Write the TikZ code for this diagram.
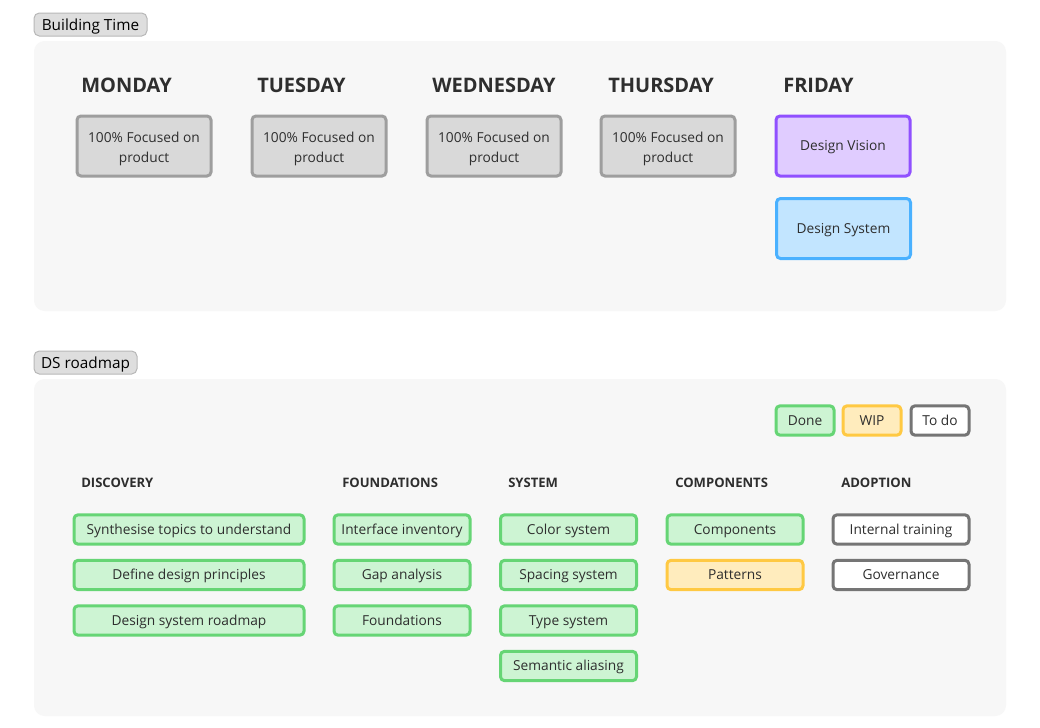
\documentclass[tikz,border=0pt]{standalone}
\usepackage{fontspec}
\setmainfont{Open Sans}
\definecolor{panel}{HTML}{F7F7F7}
\definecolor{tagfill}{HTML}{DEDEDE}
\definecolor{tagline}{HTML}{B8B8B8}
\definecolor{grayfill}{HTML}{D9D9D9}
\definecolor{grayline}{HTML}{9E9E9E}
\definecolor{txt}{HTML}{2E2E2E}
\definecolor{purfill}{HTML}{E0CCFF}
\definecolor{purline}{HTML}{9050FF}
\definecolor{blufill}{HTML}{C2E5FF}
\definecolor{bluline}{HTML}{4AB1FF}
\definecolor{grnfill}{HTML}{CDF4D3}
\definecolor{grnline}{HTML}{66D575}
\definecolor{yelfill}{HTML}{FFECBD}
\definecolor{yelline}{HTML}{FFC943}
\definecolor{todoline}{HTML}{757575}
\newcommand{\twoline}[2]{\raisebox{-1.6pt}[\height][\depth]{\begin{tabular}{@{}c@{}}#1\\#2\end{tabular}}}
\begin{document}
\begin{tikzpicture}[x=0.75pt,y=-0.75pt,
  tag/.style={draw=tagline,fill=tagfill,rounded corners=4pt,line width=0.75pt,inner sep=0pt,text height=8.3pt,text depth=0pt,font=\fontsize{11.5}{13}\selectfont,text=black},
  panelbox/.style={fill=panel,rounded corners=8pt},
  day/.style={anchor=west,inner sep=0pt,font=\fontsize{15}{17}\selectfont\bfseries,text=txt},
  col/.style={anchor=west,inner sep=0pt,font=\fontsize{9.8}{12}\selectfont\bfseries,text=txt},
  card/.style={rounded corners=3pt,line width=2.25pt,inner sep=0pt,align=center,text=txt,font=\fontsize{10.3}{15}\selectfont},
  one/.style={text height=7.4pt,text depth=0pt},
  daybox/.style={card,draw=grayline,fill=grayfill,minimum width=100.5pt,minimum height=45pt},
  vision/.style={card,one,draw=purline,fill=purfill,minimum width=100.5pt,minimum height=45pt},
  dsys/.style={card,one,draw=bluline,fill=blufill,minimum width=100.5pt,minimum height=45pt},
  done/.style={card,one,draw=grnline,fill=grnfill,minimum height=22pt},
  wip/.style={card,one,draw=yelline,fill=yelfill,minimum height=22pt},
  todo/.style={card,one,draw=todoline,fill=white,minimum height=22pt},
]
\useasboundingbox[fill=white] (0,0) rectangle (1040,728);
% Building time
\node[tag,minimum width=84.75pt,minimum height=17.25pt] (t1) at (90.5,24.5) {Building Time};
\fill[panelbox] (34,41) rectangle (1006,311);
\node[day] (mon) at (81,85) {MONDAY};
\node[day] (tue) at (257,85) {TUESDAY};
\node[day] (wed) at (432,85) {WEDNESDAY};
\node[day] (thu) at (608,85) {THURSDAY};
\node[day] (fri) at (783,85) {FRIDAY};
\node[daybox] (b1) at (144,146) {\twoline{100\% Focused on}{product}};
\node[daybox] (b2) at (319,146) {\twoline{100\% Focused on}{product}};
\node[daybox] (b3) at (494,146) {\twoline{100\% Focused on}{product}};
\node[daybox] (b4) at (668,146) {\twoline{100\% Focused on}{product}};
\node[vision] (dv) at (843,146) {Design Vision};
\node[dsys] (ds) at (843.5,228.5) {Design System};
% DS roadmap
\node[tag,minimum width=77.25pt,minimum height=17.25pt] (t2) at (85.5,362.5) {DS roadmap};
\fill[panelbox] (34,379) rectangle (1006,716);
\node[done,minimum width=43.5pt] (lg1) at (805,420.5) {Done};
\node[wip,minimum width=43.5pt] (lg2) at (872,420.5) {WIP};
\node[todo,minimum width=43.5pt] (lg3) at (940,420.5) {To do};
\node[col] (c1) at (81,483) {DISCOVERY};
\node[col] (c2) at (342,483) {FOUNDATIONS};
\node[col] (c3) at (508,483) {SYSTEM};
\node[col] (c4) at (675,483) {COMPONENTS};
\node[col] (c5) at (841,483) {ADOPTION};
\tikzset{wide/.style={minimum width=172.5pt},narrow/.style={minimum width=102pt}}
\node[done,wide] (d1) at (189,529.5) {Synthesise topics to understand};
\node[done,wide] (d2) at (189,575) {Define design principles};
\node[done,wide] (d3) at (189,620.5) {Design system roadmap};
\node[done,narrow] (f1) at (402,529.5) {Interface inventory};
\node[done,narrow] (f2) at (402,575) {Gap analysis};
\node[done,narrow] (f3) at (402,620.5) {Foundations};
\node[done,narrow] (s1) at (568.5,529.5) {Color system};
\node[done,narrow] (s2) at (568.5,575) {Spacing system};
\node[done,narrow] (s3) at (568.5,620.5) {Type system};
\node[done,narrow] (s4) at (568.5,666) {Semantic aliasing};
\node[done,narrow] (p1) at (735,529.5) {Components};
\node[wip,narrow] (p2) at (735,575) {Patterns};
\node[todo,narrow] (a1) at (901,529.5) {Internal training};
\node[todo,narrow] (a2) at (901,575) {Governance};
\end{tikzpicture}
\end{document}
